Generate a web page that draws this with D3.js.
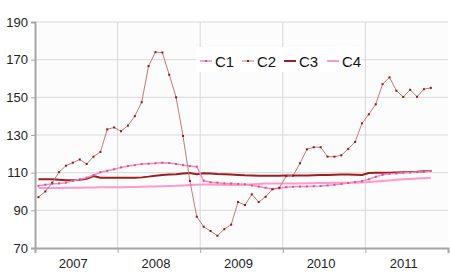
<!DOCTYPE html>
<html>
<head>
<meta charset="utf-8">
<script src="https://cdn.jsdelivr.net/npm/d3@7"></script>
<style>
  body { margin: 0; background: #ffffff; }
  svg { display: block; font-family: "Liberation Sans", Arial, sans-serif; }
</style>
</head>
<body>
<svg id="chart" width="450" height="279"></svg>
<script>

// monthly index values, Jan 2007 .. Oct 2011
var years = ["2007", "2008", "2009", "2010", "2011"];
var yTicks = [70, 90, 110, 130, 150, 170, 190];

var c1 = [103.0, 103.6, 104.1, 104.3, 104.7, 105.7, 106.5, 107.3, 108.7, 110.2, 111.0, 111.8,
    112.8, 113.5, 114.0, 114.6, 114.8, 115.0, 115.3, 115.1, 114.6, 114.0, 113.5, 113.2,
    105.7, 104.9, 104.7, 104.3, 104.2, 104.0, 103.8, 103.2, 102.6, 102.0, 101.3, 101.7,
    102.3, 102.5, 102.6, 102.7, 102.8, 102.9, 103.2, 103.6, 104.0, 104.5, 105.0, 105.5,
    106.5, 107.8, 108.9, 109.4, 109.6, 110.0, 110.1, 110.3, 110.5, 110.9];

var c2 = [97.0, 100.0, 104.7, 110.3, 113.7, 115.3, 117.0, 114.6, 118.5, 121.0, 133.0, 134.0,
    132.0, 135.0, 140.0, 147.4, 166.6, 174.0, 173.8, 162.0, 150.0, 129.5, 105.6, 86.6,
    81.3, 79.0, 76.5, 80.0, 82.4, 94.4, 92.8, 98.5, 94.4, 97.2, 101.2, 102.0,
    108.2, 108.4, 115.0, 122.4, 123.5, 123.5, 118.5, 118.5, 119.2, 122.6, 126.3, 136.2,
    141.0, 146.3, 157.0, 160.6, 153.5, 150.2, 154.0, 150.3, 154.3, 155.0];

var c3 = [106.5, 106.5, 106.5, 106.3, 106.0, 106.0, 106.3, 106.8, 108.2, 107.3, 107.3, 107.3,
    107.3, 107.3, 107.3, 107.5, 107.9, 108.4, 108.8, 109.0, 109.2, 109.5, 109.8, 109.2,
    109.7, 109.5, 109.3, 109.2, 109.0, 108.8, 108.6, 108.5, 108.4, 108.4, 108.4, 108.4,
    108.5, 108.5, 108.5, 108.5, 108.6, 108.7, 108.8, 108.9, 109.0, 109.0, 108.9, 108.8,
    109.8, 109.9, 110.0, 110.0, 110.1, 110.2, 110.3, 110.5, 110.8, 110.9];

var c4 = [101.8, 101.8, 101.9, 101.9, 102.0, 102.0, 102.0, 102.1, 102.1, 102.2, 102.2, 102.3,
    102.3, 102.4, 102.4, 102.5, 102.6, 102.7, 102.8, 102.9, 103.0, 103.2, 103.4, 103.6,
    103.7, 103.7, 103.6, 103.6, 103.5, 103.5, 103.6, 103.8, 104.0, 104.2, 104.3, 104.3,
    104.3, 104.3, 104.3, 104.4, 104.4, 104.5, 104.5, 104.6, 104.6, 104.7, 104.7, 104.8,
    105.0, 105.3, 105.6, 105.9, 106.2, 106.5, 106.7, 106.9, 107.1, 107.3];

var series = [
    {name: "C1", values: c1, stroke: "#f58cc0", width: 1.5, marker: "#d4548c"},
    {name: "C2", values: c2, stroke: "#c47a7a", width: 1, marker: "#a01010"},
    {name: "C3", values: c3, stroke: "#9c1e1e", width: 2, marker: null},
    {name: "C4", values: c4, stroke: "#ff99cc", width: 2, marker: null}
];

var svg = d3.select("#chart");

var margin = {left: 35, right: 2, top: 22, bottom: 31};
var W = 450, H = 279;

var x = d3.scaleLinear()
    .domain([0, 60])
    .range([margin.left, W - margin.right]);

var y = d3.scaleLinear()
    .domain([70, 190])
    .range([H - margin.bottom, margin.top]);

// plot background
svg.append("rect")
    .attr("x", x(0))
    .attr("y", y(190))
    .attr("width", x(60) - x(0))
    .attr("height", y(70) - y(190))
    .attr("fill", "#fcfcfc");

// grid
svg.append("g")
    .selectAll("line")
    .data(yTicks.slice(1))
    .enter().append("line")
    .attr("x1", x(0)).attr("x2", x(60))
    .attr("y1", function (d) { return y(d); })
    .attr("y2", function (d) { return y(d); })
    .attr("stroke", "#d9d9d9")
    .attr("stroke-width", 1);

svg.append("g")
    .selectAll("line")
    .data([12, 24, 36, 48])
    .enter().append("line")
    .attr("x1", function (d) { return x(d); })
    .attr("x2", function (d) { return x(d); })
    .attr("y1", y(190)).attr("y2", y(70))
    .attr("stroke", "#d9d9d9")
    .attr("stroke-width", 1);

// axes
var yAxis = svg.append("g")
    .attr("transform", "translate(" + x(0) + ",0)")
    .call(d3.axisLeft(y).tickValues(yTicks).tickSize(4).tickPadding(3));

var xAxis = svg.append("g")
    .attr("transform", "translate(0," + y(70) + ")")
    .call(d3.axisBottom(x).tickValues([0, 12, 24, 36, 48, 60]).tickSize(5).tickFormat(""));

[yAxis, xAxis].forEach(function (a) {
    a.select(".domain").attr("stroke", "#a6a6a6").attr("stroke-width", 2);
    a.selectAll(".tick line").attr("stroke", "#a6a6a6").attr("stroke-width", 1);
});

yAxis.selectAll("text")
    .attr("font-size", 13)
    .attr("fill", "#222")
    .attr("font-family", "Liberation Sans, Arial, sans-serif");

svg.append("g")
    .selectAll("text")
    .data(years)
    .enter().append("text")
    .attr("x", function (d, i) { return x(i * 12 + 6) - 3; })
    .attr("y", 268)
    .attr("text-anchor", "middle")
    .attr("font-size", 13)
    .attr("fill", "#222")
    .text(function (d) { return d; });

// lines
var line = d3.line()
    .x(function (d, i) { return x(i + 0.5); })
    .y(function (d) { return y(d); });

var drawOrder = [series[3], series[2], series[0], series[1]];

drawOrder.forEach(function (s) {
    svg.append("path")
        .datum(s.values)
        .attr("d", line)
        .attr("fill", "none")
        .attr("stroke", s.stroke)
        .attr("stroke-width", s.width)
        .attr("stroke-linejoin", "round");

    if (s.marker) {
        svg.append("g")
            .selectAll("rect")
            .data(s.values)
            .enter().append("rect")
            .attr("x", function (d, i) { return x(i + 0.5) - 1; })
            .attr("y", function (d) { return y(d) - 1; })
            .attr("width", 2)
            .attr("height", 2)
            .attr("fill", s.marker);
    }
});

// legend
var legend = svg.append("g");

legend.append("rect")
    .attr("x", 196)
    .attr("y", 47)
    .attr("width", 166)
    .attr("height", 25)
    .attr("fill", "#ffffff");

var legX = [200, 242, 284, 327];

series.forEach(function (s, i) {
    var g = legend.append("g").attr("transform", "translate(" + legX[i] + ",61)");
    g.append("line")
        .attr("x1", 0).attr("x2", 12)
        .attr("y1", 0).attr("y2", 0)
        .attr("stroke", s.stroke)
        .attr("stroke-width", s.width);
    if (s.marker) {
        g.append("rect")
            .attr("x", 5).attr("y", -1)
            .attr("width", 2).attr("height", 2)
            .attr("fill", s.marker);
    }
    g.append("text")
        .attr("x", 15)
        .attr("y", 5.5)
        .attr("font-size", 15)
        .attr("fill", "#111")
        .text(s.name);
});

</script>
</body>
</html>
